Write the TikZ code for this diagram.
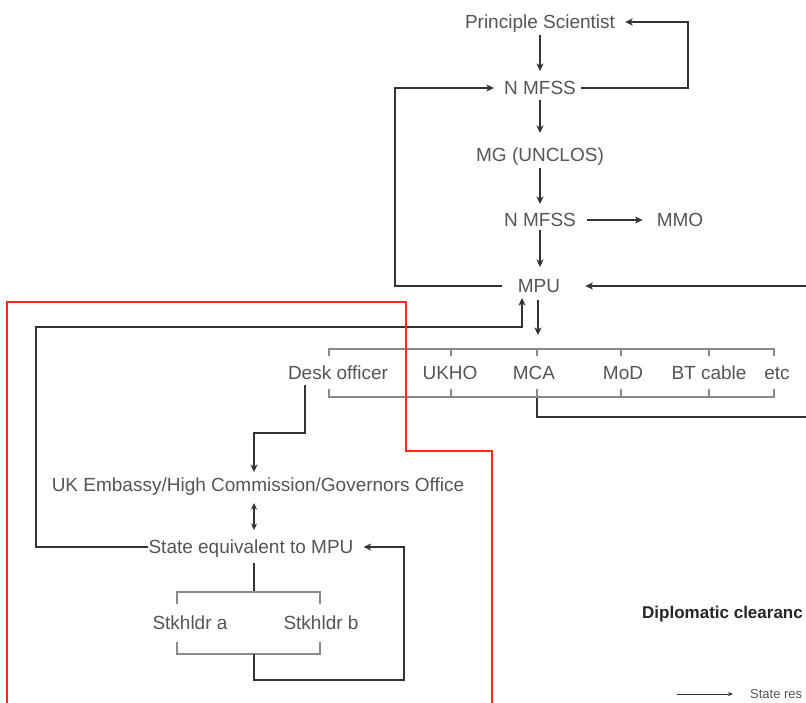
\documentclass[tikz,border=0pt]{standalone}
\usepackage{fontspec}
\setmainfont{Liberation Sans}
\usetikzlibrary{arrows.meta}
\definecolor{txt}{HTML}{555555}
\definecolor{ln}{HTML}{333333}
\definecolor{brkc}{HTML}{8A8A8A}
\definecolor{redl}{HTML}{FF2A1A}
\begin{document}
\begin{tikzpicture}[x=1pt,y=-1pt,
  lbl/.style={font=\fontsize{19}{22}\selectfont, text=txt, inner sep=0pt, text height=13.6pt, text depth=0pt},
  arr/.style={draw=ln, line width=2pt, -{Stealth[length=7.5pt,width=7pt,inset=2pt]}},
  con/.style={draw=ln, line width=2pt},
  brk/.style={draw=brkc, line width=1.3pt},
  redbox/.style={draw=redl, line width=2.5pt}
]
\useasboundingbox (0,0) rectangle (806,702);
\clip (0,0) rectangle (806,702);
\fill[white] (0,0) rectangle (806,702);

% nodes
\node[lbl] (ps)  at (540,22)  {Principle Scientist};
\node[lbl] (nm1) at (540,88)  {N MFSS};
\node[lbl] (mg)  at (540,155) {MG (UNCLOS)};
\node[lbl] (nm2) at (540,220) {N MFSS};
\node[lbl] (mmo) at (680,220) {MMO};
\node[lbl] (mpu) at (539,286) {MPU};
\node[lbl] (desk) at (338,373) {Desk officer};
\node[lbl] (ukho) at (450,373) {UKHO};
\node[lbl] (mca)  at (534,373) {MCA};
\node[lbl] (mod)  at (623,373) {MoD};
\node[lbl] (bt)   at (709,373) {BT cable};
\node[lbl] (etc)  at (777,373) {etc};
\node[lbl] (emb) at (258,485) {UK Embassy/High Commission/Governors Office};
\node[lbl] (seq) at (251,547) {State equivalent to MPU};
\node[lbl] (sa)  at (190,623) {Stkhldr a};
\node[lbl] (sb)  at (321,623) {Stkhldr b};
\node[anchor=west, inner sep=0pt, text height=12pt, text depth=0pt, text=black!85,
      font=\bfseries\fontsize{17}{20}\selectfont] (dip) at (642,612) {Diplomatic clearanc};
\node[anchor=west, inner sep=0pt, text height=9.5pt, text depth=0pt, text=txt,
      font=\fontsize{13}{15}\selectfont] (leg) at (750,694) {State res};

% helper coordinates
\coordinate (brt) at (538,349);
\coordinate (mcab) at (537,397);
\coordinate (d1) at (254,433);
\coordinate (sktop) at (254,592);
\coordinate (skbot) at (254,654);
\coordinate (legs) at (677,694);

% main vertical chain
\draw[arr, shorten <=6pt, shorten >=10pt] (ps.south) -- (nm1.north);
\draw[arr, shorten <=5pt, shorten >=15pt] (nm1.south) -- (mg.north);
\draw[arr, shorten <=6pt, shorten >=9pt] (mg.south) -- (nm2.north);
\draw[arr, shorten <=3pt, shorten >=12pt] (nm2.south) -- (mpu.north -| nm2);
\draw[arr, shorten <=11pt, shorten >=14pt] (nm2.east) -- (mmo.west);

% loops
\draw[arr, shorten <=5pt, shorten >=10pt] (nm1.east) -| (688,22) -- (ps.east);
\draw[arr, shorten <=16pt, shorten >=10pt] (mpu.west) -| (395,88) -- (nm1.west);
\draw[arr, shorten >=25pt] (mcab) |- (830,417) |- (mpu.east);
\draw[arr, shorten <=7pt, shorten >=14pt] (mpu.south -| brt) -- (brt);
\draw[arr, shorten >=5pt] (seq.west) -| (36,327) -| ([xshift=-17pt]mpu.south);

% organisations bracket
\draw[brk] (329,356) |- (774,349) -- (774,356);
\draw[brk] (329,389) |- (774,397) -- (774,389);
\foreach \xx in {451,537,621,709} {
  \draw[brk] (\xx,349) -- (\xx,356);
  \draw[brk] (\xx,389) -- (\xx,397);
}

% lower part
\draw[arr, shorten <=5pt, shorten >=6pt] ([xshift=-33pt]desk.south) |- (d1) -- (emb.north -| d1);
\draw[con, {Stealth[length=6.5pt,width=6pt,inset=2pt]}-{Stealth[length=6.5pt,width=6pt,inset=2pt]}, shorten <=11pt, shorten >=10pt]
  (emb.south -| d1) -- (seq.north -| d1);
\draw[con, shorten <=9pt] (seq.south -| d1) -- (sktop);
\draw[brk] (177,604) |- (320,592) -- (320,604);
\draw[brk] (177,642) |- (320,654) -- (320,642);
\draw[arr, shorten >=10pt] (skbot) |- (404,680) |- (seq.east);

% red outline
\draw[redbox] (7,712) -- (7,302) -- (406,302) -- (406,451) -- (492,451) -- (492,712);

% legend
\draw[draw=ln, line width=0.9pt, -{Stealth[length=5pt,width=4pt]}, shorten >=17pt] (legs) -- (leg.west);
\end{tikzpicture}
\end{document}
